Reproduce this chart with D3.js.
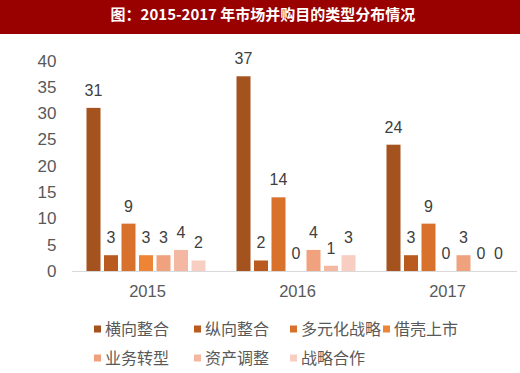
<!DOCTYPE html>
<html>
<head>
<meta charset="utf-8">
<script src="https://cdn.jsdelivr.net/npm/d3@7"></script>
<style>
  body { margin: 0; background: #fff; }
  svg { display: block; }
</style>
</head>
<body>
<div id="chart"></div>
<script>
const years = ['2015', '2016', '2017']
const seriesNames = ['横向整合', '纵向整合', '多元化战略', '借壳上市', '业务转型', '资产调整', '战略合作']
const v2015 = [31, 3, 9, 3, 3, 4, 2]
const v2016 = [37, 2, 14, 0, 4, 1, 3]
const v2017 = [24, 3, 9, 0, 3, 0, 0]
const yTicks = [0, 5, 10, 15, 20, 25, 30, 35, 40]
const colors = ['#a4531f', '#b95a1f', '#d8712c', '#ee8436', '#f0a27e', '#f4b8a2', '#f8cdc2']

let width = 520
let height = 373
const font = '"Liberation Sans", Arial, "Noto Sans CJK SC", sans-serif'
const cjk = '"Noto Sans CJK SC", sans-serif'

const values = { '2015': v2015, '2016': v2016, '2017': v2017 }

const svg = d3.select('#chart')
  .append('svg')
  .attr('width', width)
  .attr('height', height)

// title bar
svg.append('rect')
  .attr('x', 0).attr('y', 0)
  .attr('width', width).attr('height', 34)
  .attr('fill', '#990000')

svg.append('text')
  .attr('x', 263).attr('y', 20)
  .attr('text-anchor', 'middle')
  .attr('fill', '#fff')
  .attr('font-weight', 'bold')
  .attr('font-size', '15px')
  .attr('font-family', cjk)
  .text('图：2015-2017 年市场并购目的类型分布情况')

const x0 = d3.scaleBand()
  .domain(years)
  .range([71, 521])
  .paddingInner(0.16)
  .paddingOuter(0.08)

const x1 = d3.scaleBand()
  .domain(seriesNames)
  .range([0, x0.bandwidth()])
  .padding(0.2)

const y = d3.scaleLinear()
  .domain([0, 40])
  .range([271, 60.5])

// y axis labels
svg.append('g')
  .selectAll('text')
  .data(yTicks)
  .join('text')
  .attr('x', 56.5)
  .attr('y', d => y(d) + 6)
  .attr('text-anchor', 'end')
  .attr('fill', '#595959')
  .attr('font-size', '17px')
  .attr('font-family', font)
  .text(d => d)

// baseline
svg.append('line')
  .attr('x1', 72).attr('x2', 517)
  .attr('y1', y(0) + 0.5).attr('y2', y(0) + 0.5)
  .attr('stroke', '#d9d9d9')
  .attr('stroke-width', 1)

const groups = svg.selectAll('.grp')
  .data(years)
  .join('g')
  .attr('class', 'grp')
  .attr('transform', d => `translate(${x0(d)},0)`)

const bars = groups.selectAll('g')
  .data(yr => seriesNames.map((s, i) => ({ s, i, v: values[yr][i] })))
  .join('g')

bars.append('rect')
  .attr('x', d => x1(d.s))
  .attr('y', d => y(d.v))
  .attr('width', x1.bandwidth())
  .attr('height', d => y(0) - y(d.v))
  .attr('fill', d => colors[d.i])

bars.append('text')
  .attr('x', d => x1(d.s) + x1.bandwidth() / 2)
  .attr('y', d => y(d.v) - 12)
  .attr('text-anchor', 'middle')
  .attr('fill', '#404040')
  .attr('font-size', '16px')
  .attr('font-family', font)
  .text(d => d.v)

// year labels
svg.append('g')
  .selectAll('text')
  .data(years)
  .join('text')
  .attr('x', d => x0(d) + x0.bandwidth() / 2 + 1.5)
  .attr('y', 297)
  .attr('text-anchor', 'middle')
  .attr('fill', '#595959')
  .attr('font-size', '16.5px')
  .attr('font-family', font)
  .text(d => d)

// legend
const legX = [94, 194, 290, 383]
const legend = svg.append('g')
  .selectAll('g')
  .data(seriesNames)
  .join('g')
  .attr('transform', (d, i) => `translate(${legX[i % 4]},${i < 4 ? 329 : 358})`)

legend.append('rect')
  .attr('x', 0).attr('y', -3.5)
  .attr('width', 7).attr('height', 7)
  .attr('fill', (d, i) => colors[i])

legend.append('text')
  .attr('x', 11)
  .attr('y', 5.5)
  .attr('fill', '#595959')
  .attr('font-size', '16px')
  .attr('font-family', cjk)
  .text(d => d)
</script>
</body>
</html>
